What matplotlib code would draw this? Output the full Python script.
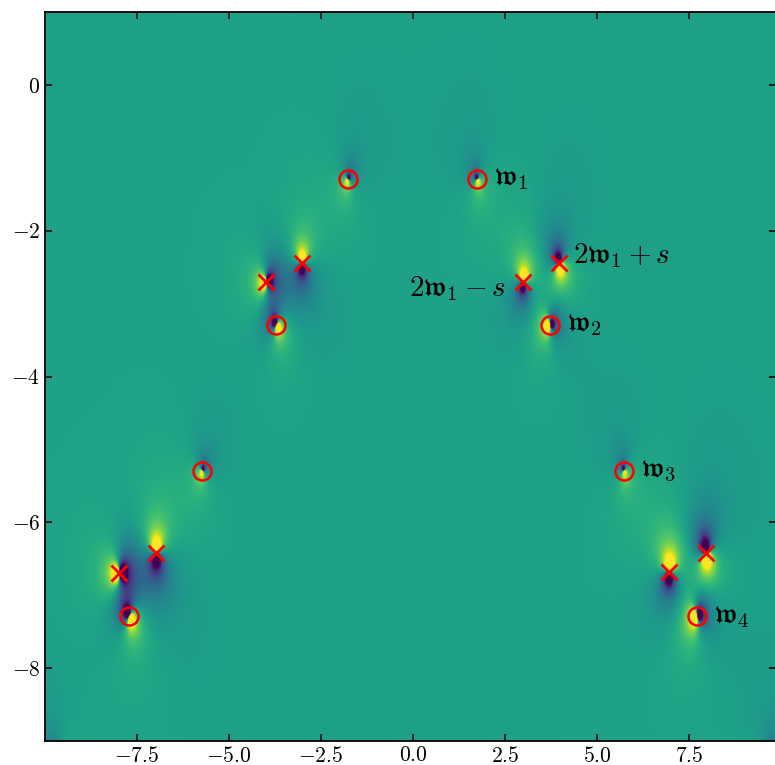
import numpy as np
import matplotlib
matplotlib.use("Agg")
import matplotlib.pyplot as plt

plt.rcParams['mathtext.fontset'] = 'cm'
plt.rcParams['font.family'] = 'serif'
plt.rcParams['font.serif'] = ['cmr10']
plt.rcParams['axes.formatter.use_mathtext'] = True

# zeros (circles) w_n and their mirror images
zeros_x = [-7.72, -5.73, -3.72, -1.77, 1.74, 3.72, 5.73, 7.72]
zeros_y = [-7.29, -5.29, -3.29, -1.29, -1.29, -3.29, -5.29, -7.29]
zeros_angle = [-45, -120, -40, -120, -65, -165, -65, -160]   # direction of bright lobe (deg)
zeros_strength = [0.20, 0.07, 0.14, 0.07, 0.07, 0.14, 0.07, 0.20]

# poles (crosses)
poles_x = [-7.99, -6.98, -3.99, -3.02, 2.99, 3.97, 6.96, 7.96]
poles_y = [-6.70, -6.42, -2.70, -2.44, -2.70, -2.44, -6.68, -6.42]
poles_angle = [-175, 90, -168, 90, 80, -68, 85, -75]
poles_strength = [0.25, 0.25, 0.18, 0.18, 0.18, 0.18, 0.25, 0.25]

# next zeros just outside the frame (darken the bottom corners)
hidden_x = [-9.72, 9.72]
hidden_y = [-9.28, -9.28]
hidden_angle = [-45, -110]
hidden_strength = [0.10, 0.10]

labels = [r'$\mathfrak{w}_1$', r'$\mathfrak{w}_2$', r'$\mathfrak{w}_3$', r'$\mathfrak{w}_4$']
label_idx = [4, 5, 6, 7]

x_lo, x_hi = -10.0, 9.85
y_lo, y_hi = -9.0, 1.0
base = 0.14
decay = 1.3

xs = np.linspace(x_lo, x_hi, 900)
ys = np.linspace(y_lo, y_hi, 900)
X, Y = np.meshgrid(xs, ys)
Z = X + 1j * Y

field = np.full(Z.shape, base)
all_x = zeros_x + poles_x + hidden_x
all_y = zeros_y + poles_y + hidden_y
all_a = zeros_angle + poles_angle + hidden_angle
all_s = zeros_strength + poles_strength + hidden_strength
for px, py, ang, amp in zip(all_x, all_y, all_a, all_s):
    dz = Z - (px + 1j * py)
    field += np.real(amp * np.exp(1j * np.deg2rad(ang)) / dz) * np.exp(-np.abs(dz) / decay)
field = np.clip(field, -1, 1)

fig = plt.figure(figsize=(7.75, 7.65), dpi=100)
ax = fig.add_axes([45 / 775, 24 / 765, 730.5 / 775, 729 / 765])
ax.imshow(field, origin='lower', extent=[x_lo, x_hi, y_lo, y_hi], aspect='auto',
          cmap='viridis', vmin=-1, vmax=1, interpolation='bilinear')

ax.plot(zeros_x, zeros_y, 'o', mfc='none', mec='red', ms=13, mew=1.8)
ax.plot(poles_x, poles_y, 'x', color='red', ms=12, mew=2)

for i, lab in zip(label_idx, labels):
    ax.annotate(lab, (zeros_x[i], zeros_y[i]), xytext=(12, 0), textcoords='offset points',
                ha='left', va='center', fontsize=21)
ax.annotate(r'$2\mathfrak{w}_1 + s$', (poles_x[5], poles_y[5]), xytext=(10, 5),
            textcoords='offset points', ha='left', va='center', fontsize=21)
ax.annotate(r'$2\mathfrak{w}_1 - s$', (poles_x[4], poles_y[4]), xytext=(-12, -5),
            textcoords='offset points', ha='right', va='center', fontsize=21)

ax.set_xlim(x_lo, x_hi)
ax.set_ylim(y_lo, y_hi)
ax.set_xticks([-7.5, -5.0, -2.5, 0.0, 2.5, 5.0, 7.5])
ax.set_yticks([0, -2, -4, -6, -8])
ax.tick_params(direction='in', top=True, right=True, length=5, width=1.1, labelsize=15.5)
for sp in ax.spines.values():
    sp.set_linewidth(1.3)

fig.savefig('out.png', dpi=100)
